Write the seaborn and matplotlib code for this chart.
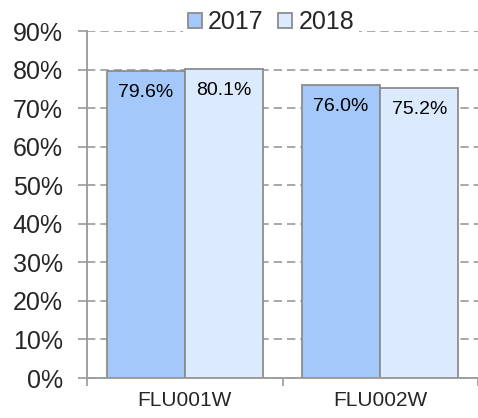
import matplotlib
matplotlib.use('Agg')
import matplotlib.pyplot as plt
import seaborn as sns
import pandas as pd

categories = ['FLU001W', 'FLU002W']
years = ['2017', '2018']
values_2017 = [79.6, 76.0]
values_2018 = [80.1, 75.2]
y_ticks = [0, 10, 20, 30, 40, 50, 60, 70, 80, 90]
colors = {'2017': '#A4C8F9', '2018': '#DCEAFD'}

df = pd.DataFrame({
    'category': categories * 2,
    'year': [years[0]] * len(categories) + [years[1]] * len(categories),
    'value': values_2017 + values_2018,
})

sns.set_style('white')
plt.rcParams['font.family'] = ['Liberation Sans', 'DejaVu Sans']

W, H = 478, 418
fig = plt.figure(figsize=(W / 100, H / 100), dpi=100)
ax = fig.add_axes([87 / W, 40 / H, (W - 87) / W, (378 - 31) / H])

sns.barplot(data=df, x='category', y='value', hue='year', order=categories,
            hue_order=years, palette=colors, width=0.8, saturation=1,
            edgecolor='#8C8C8C', linewidth=1.3, errorbar=None, ax=ax)

ax.set_ylim(0, 90)
ax.set_xlim(-0.5, 1.5)
ax.set_xlabel('')
ax.set_ylabel('')

for container, vals in zip(ax.containers, [values_2017, values_2018]):
    for bar, v in zip(container, vals):
        ax.annotate(f'{v:.1f}%', (bar.get_x() + bar.get_width() / 2, bar.get_height()),
                    xytext=(0, -13), textcoords='offset pixels', ha='center', va='top',
                    fontsize=14, color='black')

ax.set_yticks(y_ticks)
ax.set_yticklabels([f'{t}%' for t in y_ticks])
ax.yaxis.grid(True, linestyle=(0, (5, 3)), color='#999999', linewidth=1.2)
ax.set_axisbelow(True)

ax.tick_params(axis='y', direction='out', length=6.5, width=1.2, color='#999999',
               pad=11, labelsize=18, left=True)
ax.set_xticks([-0.5, 0.5, 1.5], minor=True)
ax.tick_params(axis='x', which='minor', direction='out', length=5.8, width=1.2,
               color='#999999', bottom=True)
ax.tick_params(axis='x', which='major', length=0, pad=9.5, labelsize=15)

for s in ['top', 'right']:
    ax.spines[s].set_visible(False)
for s in ['left', 'bottom']:
    ax.spines[s].set_color('#999999')
    ax.spines[s].set_linewidth(1.3)

handles, labels = ax.get_legend_handles_labels()
ax.legend(handles, labels, loc='center', bbox_to_anchor=(271 / W, 396 / H),
          bbox_transform=fig.transFigure, ncol=2, fontsize=18, frameon=True,
          facecolor='white', edgecolor='none', framealpha=1, fancybox=False,
          handlelength=0.55, handleheight=0.55, handletextpad=0.25,
          columnspacing=0.6, borderpad=0.2, borderaxespad=0)

fig.savefig('out.png', dpi=100)
